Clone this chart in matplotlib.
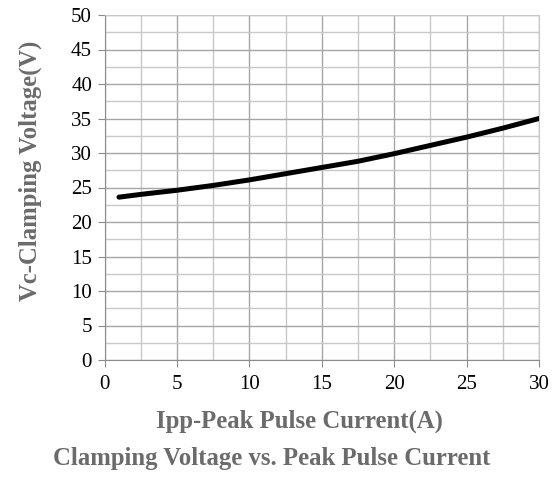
import matplotlib
matplotlib.use("Agg")
import matplotlib.pyplot as plt
import numpy as np
from matplotlib.ticker import MultipleLocator

current = [1, 2.5, 5, 7.5, 10, 12.5, 15, 17.5, 20, 22.5, 25, 27.5, 30]
voltage = [23.6, 24.0, 24.6, 25.3, 26.1, 27.0, 27.9, 28.8, 29.9, 31.1, 32.3, 33.6, 35.0]

plt.rcParams['font.family'] = ['Liberation Serif', 'DejaVu Serif']

fig = plt.figure(figsize=(5.58, 4.8), dpi=100)
ax = fig.add_axes([104.5/558, 120/480, (539-104.5)/558, 345/480])

ax.set_xlim(0, 30)
ax.set_ylim(0, 50)
ax.xaxis.set_major_locator(MultipleLocator(5))
ax.xaxis.set_minor_locator(MultipleLocator(2.5))
ax.yaxis.set_major_locator(MultipleLocator(5))
ax.yaxis.set_minor_locator(MultipleLocator(2.5))
ax.grid(which='major', color='#a6a6a6', linewidth=1.0)
ax.grid(which='minor', color='#c8c8c8', linewidth=1.0)
ax.set_axisbelow(True)

ax.plot(current, voltage, color='black', linewidth=3.6, solid_capstyle='round', zorder=3)

for s in ['top', 'right']:
    ax.spines[s].set_color('#c8c8c8')
for s in ['left', 'bottom']:
    ax.spines[s].set_color('#8c8c8c')

ax.tick_params(which='major', direction='out', length=5, color='#8c8c8c',
               labelsize=15, labelcolor='black')
ax.tick_params(axis='x', which='major', pad=6)
ax.tick_params(axis='y', which='major', pad=4)
ax.tick_params(which='minor', length=0)

fig.text(299/558, 1 - 421/480, 'Ipp-Peak Pulse Current(A)', ha='center', va='center',
         fontsize=17.8, fontweight='bold', color='#6b6b6b')
fig.text(272/558, 1 - 458/480, 'Clamping Voltage vs. Peak Pulse Current', ha='center', va='center',
         fontsize=17.8, fontweight='bold', color='#6b6b6b')
fig.text(30/558, 1 - 171/480, 'Vc-Clamping Voltage(V)', ha='center', va='center', rotation=90,
         fontsize=17.8, fontweight='bold', color='#6b6b6b')

fig.savefig('out.png', dpi=100)
